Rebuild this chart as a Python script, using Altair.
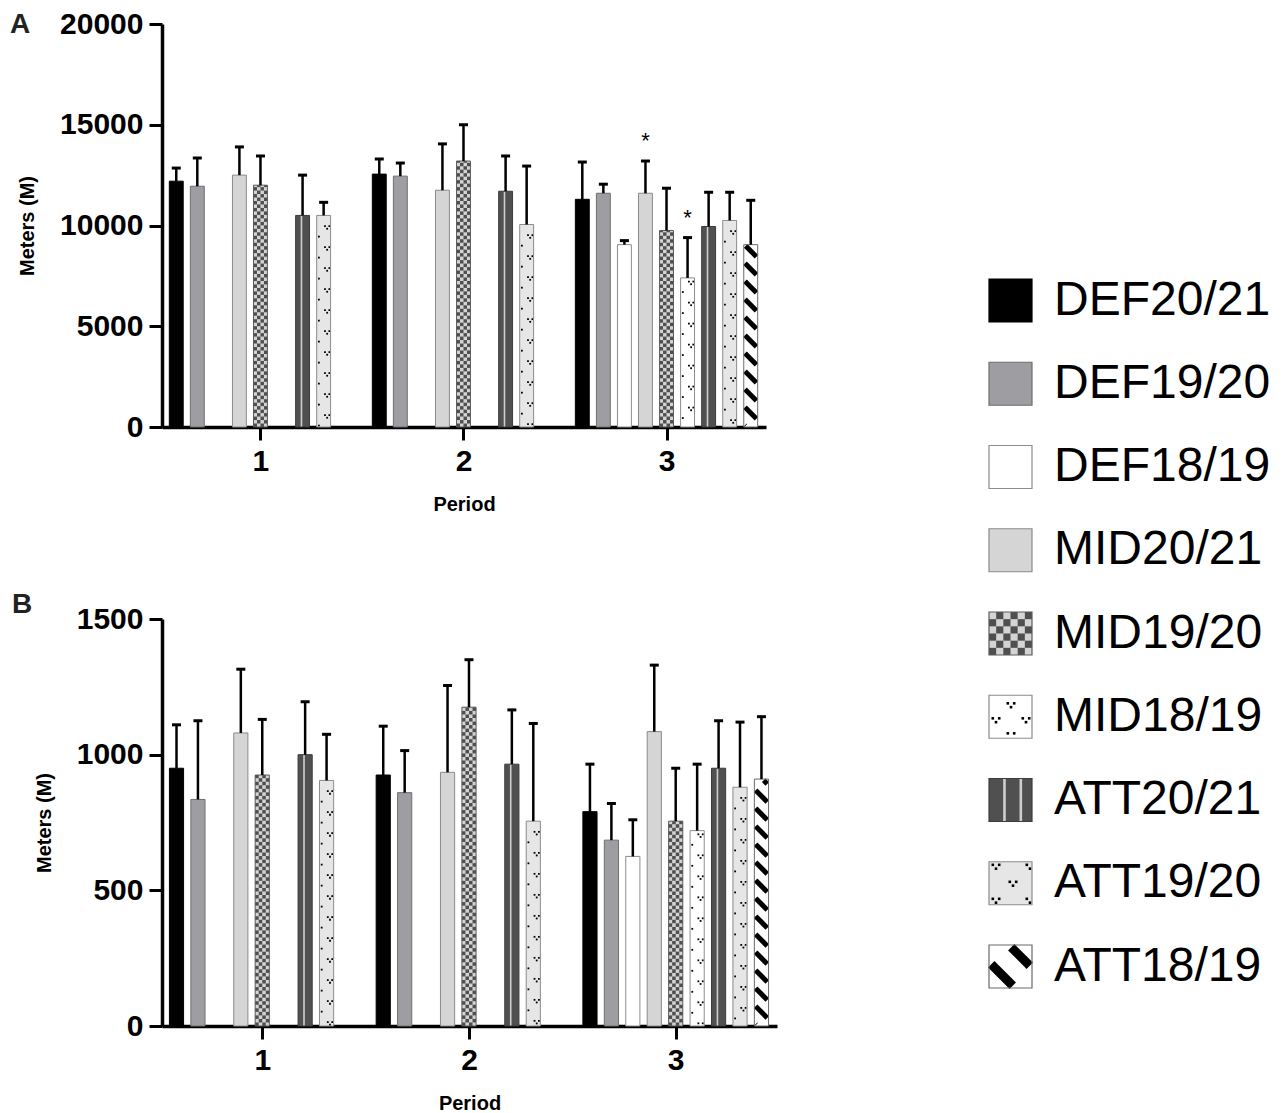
import altair as alt
import pandas as pd

FONT = "Liberation Sans"

PERIODS = [1, 2, 3]
SERIES = ["DEF20/21", "DEF19/20", "DEF18/19", "MID20/21", "MID19/20",
          "MID18/19", "ATT20/21", "ATT19/20", "ATT18/19"]

# Panel A: mean and SD (m) per period, in SERIES order (None = no data)
A_MEAN_P1 = [12200, 11950, None, 12500, 12000, None, 10500, 10500, None]
A_MEAN_P2 = [12550, 12450, None, 11750, 13200, None, 11700, 10050, None]
A_MEAN_P3 = [11300, 11600, 9050, 11600, 9750, 7400, 9950, 10250, 9050]
A_SD_P1 = [650, 1400, None, 1400, 1450, None, 2000, 650, None]
A_SD_P2 = [750, 650, None, 2300, 1800, None, 1750, 2900, None]
A_SD_P3 = [1850, 450, 200, 1600, 2100, 2000, 1700, 1400, 2200]
A_SIG = [(3, "MID20/21"), (3, "MID18/19")]
A_YTICKS = [0, 5000, 10000, 15000, 20000]

# Panel B
B_MEAN_P1 = [950, 835, None, 1080, 925, None, 1000, 905, None]
B_MEAN_P2 = [925, 860, None, 935, 1175, None, 965, 755, None]
B_MEAN_P3 = [790, 685, 625, 1085, 755, 720, 950, 880, 910]
B_SD_P1 = [160, 290, None, 235, 205, None, 195, 170, None]
B_SD_P2 = [180, 155, None, 320, 175, None, 200, 360, None]
B_SD_P3 = [175, 135, 135, 245, 195, 245, 175, 240, 230]
B_SIG = []
B_YTICKS = [0, 500, 1000, 1500]

FILLS = ["#000000", "#9e9ea2", "#ffffff", "#d5d5d5", "#d4d4d4",
         "#ffffff", "#505050", "#e6e6e6", "#ffffff"]
STROKES = ["#000000", "#6e6e6e", "#8c8c8c", "#8a8a8a", "#5a5a5a",
           "#8c8c8c", "#3c3c3c", "#8c8c8c", "#6a6a6a"]

STEP = 0.1037
BW = 0.0685
XDOM = [0.515, 3.49]


def build(means, sds, sig):
    rows = []
    for p, m_list, s_list in zip(PERIODS, means, sds):
        for i, (s, m, sd) in enumerate(zip(SERIES, m_list, s_list)):
            if m is None:
                continue
            rows.append(dict(period=p, series=s, slot=i, mean=m, sd=sd,
                             sig=int((p, s) in sig)))
    return pd.DataFrame(rows)


BAR_PAT = dict(nc=4, stripes="[0.42]", stripe_w=1.6,
               dots={"MID18/19": (21, 10.5, 5), "ATT19/20": (21, 10.5, 12)},
               dot_s=1.8, dot_d=2.2, diag_q=18, diag_sw=5, diag_ph=3)
LEG_PAT = dict(nc=6, stripes="[0.36, 0.74]", stripe_w=2.6,
               dots={"MID18/19": (30, 22, 10), "ATT19/20": (34, 7, 5)},
               dot_s=2.6, dot_d=3.2, diag_q=37, diag_sw=9, diag_ph=-11)


def tern(m, a, b, c):
    return f"(datum.{m} == 0 ? {a} : (datum.{m} == 1 ? {b} : {c}))"


def pattern_layers(base, X, X2, Y, Y2, ux, uy, P):
    layers = []
    K = uy / ux
    nc = P["nc"]
    chk = (base.transform_filter("datum.series == 'MID19/20'")
           .transform_calculate(cw=f"(datum.x1 - datum.x0) / {nc}")
           .transform_calculate(ch=f"datum.cw * {K}")
           .transform_calculate(rr="sequence(0, ceil((datum.hi - datum.lo) / datum.ch))")
           .transform_flatten(["rr"])
           .transform_calculate(cc=f"sequence(0, {nc})")
           .transform_flatten(["cc"])
           .transform_filter("(datum.rr + datum.cc) % 2 == 0")
           .transform_calculate(qx0="datum.x0 + datum.cc * datum.cw")
           .transform_calculate(qx1="datum.qx0 + datum.cw",
                                qy0="datum.lo + datum.rr * datum.ch")
           .transform_calculate(qy1="min(datum.hi, datum.qy0 + datum.ch)")
           .mark_rect(color="#4f4f4f")
           .encode(x=X("qx0"), x2=X2("qx1"), y=Y("qy0"), y2=Y2("qy1")))
    layers.append(chk)

    strp = (base.transform_filter("datum.series == 'ATT20/21'")
            .transform_calculate(fr=P["stripes"])
            .transform_flatten(["fr"])
            .transform_calculate(sx="datum.x0 + datum.fr * (datum.x1 - datum.x0)")
            .mark_rule(color="#cfcfcf", strokeWidth=P["stripe_w"])
            .encode(x=X("sx"), y=Y("lo"), y2=Y2("hi")))
    layers.append(strp)

    S = P["dot_s"]
    D = P["dot_d"]
    for s, (per, xr, yr) in P["dots"].items():
        dots = (base.transform_filter(f"datum.series == '{s}'")
                .transform_calculate(wpx=f"(datum.x1 - datum.x0) / {ux}",
                                     hpx=f"(datum.hi - datum.lo) / {uy}")
                .transform_calculate(jj=f"sequence(0, ceil(datum.hpx / {per / 2}) + 2)")
                .transform_flatten(["jj"])
                .transform_calculate(kk="[-1, 0, 1, 2]")
                .transform_flatten(["kk"])
                .transform_calculate(mm="[0, 1, 2]")
                .transform_flatten(["mm"])
                .transform_calculate(
                    px=f"{xr} + (datum.jj % 2) * {per / 2} + datum.kk * {per} + " + tern("mm", -D, D, 0),
                    py=f"{yr} + datum.jj * {per / 2} + " + tern("mm", -0.6 * D, -0.6 * D, 0.6 * D))
                .transform_filter(f"datum.px >= {S / 2} && datum.px <= datum.wpx - {S / 2} && "
                                  f"datum.py >= {S / 2} && datum.py <= datum.hpx - {S / 2}")
                .transform_calculate(dx0=f"datum.x0 + (datum.px - {S / 2}) * {ux}",
                                     dx1=f"datum.x0 + (datum.px + {S / 2}) * {ux}",
                                     dy0=f"datum.hi - (datum.py + {S / 2}) * {uy}",
                                     dy1=f"datum.hi - (datum.py - {S / 2}) * {uy}")
                .mark_rect(color="black")
                .encode(x=X("dx0"), x2=X2("dx1"), y=Y("dy0"), y2=Y2("dy1")))
        layers.append(dots)

    Q = P["diag_q"]
    SW = P["diag_sw"]
    PH = P["diag_ph"]
    M = SW * 0.25
    diag = (base.transform_filter("datum.series == 'ATT18/19'")
            .transform_calculate(wpx=f"(datum.x1 - datum.x0) / {ux}",
                                 hpx=f"(datum.hi - datum.lo) / {uy}")
            .transform_calculate(ci=f"sequence(0, ceil((datum.hpx + datum.wpx) / {Q}) + 2)")
            .transform_flatten(["ci"])
            .transform_calculate(cv=f"{PH} + datum.ci * {Q}")
            .transform_calculate(xs=f"max({M}, datum.cv - (datum.hpx - {M}))",
                                 xe=f"min(datum.wpx - {M}, datum.cv - {M})")
            .transform_filter("datum.xs < datum.xe")
            .transform_calculate(lx0=f"datum.x0 + datum.xs * {ux}",
                                 ly0=f"datum.lo + (datum.cv - datum.xs) * {uy}",
                                 lx1=f"datum.x0 + datum.xe * {ux}",
                                 ly1=f"datum.lo + (datum.cv - datum.xe) * {uy}")
            .mark_rule(color="black", strokeWidth=SW, strokeCap="butt")
            .encode(x=X("lx0"), y=Y("ly0"), x2=X2("lx1"), y2=Y2("ly1")))
    layers.append(diag)
    return layers


def panel(df, ymax, yticks, width, height, letter, lx, ly):
    ux = (XDOM[1] - XDOM[0]) / width
    uy = ymax / height
    xs = alt.Scale(domain=XDOM, nice=False, zero=False)
    ys = alt.Scale(domain=[0, ymax], nice=False)
    xax = alt.Axis(values=PERIODS, format="d", title="Period",
                   labelPadding=6, titlePadding=18)
    yax = alt.Axis(values=yticks, format="d", title="Meters (M)",
                   labelPadding=6, titlePadding=22)

    def X(f):
        return alt.X(f"{f}:Q", scale=xs, axis=xax)

    def X2(f):
        return alt.X2(f)

    def Y(f):
        return alt.Y(f"{f}:Q", scale=ys, axis=yax)

    def Y2(f):
        return alt.Y2(f)

    base = (alt.Chart(df)
            .transform_calculate(xc=f"datum.period + (datum.slot - 4) * {STEP}")
            .transform_calculate(x0=f"datum.xc - {BW / 2}", x1=f"datum.xc + {BW / 2}",
                                 lo="0", hi="datum.mean", e="datum.mean + datum.sd"))

    fill = base.mark_rect().encode(
        x=X("x0"), x2=X2("x1"), y=Y("lo"), y2=Y2("hi"),
        fill=alt.Fill("series:N", scale=alt.Scale(domain=SERIES, range=FILLS), legend=None))
    outline = base.mark_rect(fillOpacity=0, strokeWidth=1).encode(
        x=X("x0"), x2=X2("x1"), y=Y("lo"), y2=Y2("hi"),
        stroke=alt.Stroke("series:N", scale=alt.Scale(domain=SERIES, range=STROKES), legend=None))
    stem = base.mark_rule(color="black", strokeWidth=2.5).encode(
        x=X("xc"), y=Y("hi"), y2=Y2("e"))
    cap = (base.transform_calculate(cx0=f"datum.xc - {4.5 * ux}", cx1=f"datum.xc + {4.5 * ux}")
           .mark_rule(color="black", strokeWidth=3)
           .encode(x=X("cx0"), x2=X2("cx1"), y=Y("e")))
    layers = [fill] + pattern_layers(base, X, X2, Y, Y2, ux, uy, BAR_PAT) + [outline, stem, cap]
    if df["sig"].sum() > 0:
        star = (base.transform_filter("datum.sig == 1")
                .mark_text(text="*", fontSize=22, dy=-20, baseline="middle", font=FONT, color="black")
                .encode(x=X("xc"), y=Y("e")))
        layers.append(star)
    lab = (alt.Chart(pd.DataFrame({"t": [letter]}))
           .mark_text(fontSize=28, fontWeight="bold", align="left", baseline="alphabetic",
                      font=FONT, color="#222222")
           .encode(x=alt.value(lx), y=alt.value(ly), text="t:N"))
    layers.append(lab)
    return alt.layer(*layers).properties(width=width, height=height)


dfA = build([A_MEAN_P1, A_MEAN_P2, A_MEAN_P3], [A_SD_P1, A_SD_P2, A_SD_P3], A_SIG)
dfB = build([B_MEAN_P1, B_MEAN_P2, B_MEAN_P3], [B_SD_P1, B_SD_P2, B_SD_P3], B_SIG)

chartA = panel(dfA, 20000, A_YTICKS, 604, 403, "A", -152, 9)
chartB = panel(dfB, 1500, B_YTICKS, 615, 407, "B", -150, -6)

# Legend panel
LW, LH = 480, 1080
LX0, LT0, LSZ, LSP = 202, 255, 43, 83.25


def legend_chart():
    sx = alt.Scale(domain=[0, LW], nice=False, zero=False)
    sy = alt.Scale(domain=[0, LH], nice=False, zero=False)

    def X(f):
        return alt.X(f"{f}:Q", scale=sx, axis=None)

    def X2(f):
        return alt.X2(f)

    def Y(f):
        return alt.Y(f"{f}:Q", scale=sy, axis=None)

    def Y2(f):
        return alt.Y2(f)

    base = (alt.Chart(pd.DataFrame({"series": SERIES, "k": list(range(len(SERIES)))}))
            .transform_calculate(x0=f"{LX0}", x1=f"{LX0 + LSZ}",
                                 hi=f"{LH} - ({LT0} + datum.k * {LSP})")
            .transform_calculate(lo=f"datum.hi - {LSZ}")
            .transform_calculate(ym="(datum.lo + datum.hi) / 2", tx="datum.x1 + 22"))
    fill = base.mark_rect().encode(
        x=X("x0"), x2=X2("x1"), y=Y("lo"), y2=Y2("hi"),
        fill=alt.Fill("series:N", scale=alt.Scale(domain=SERIES, range=FILLS), legend=None))
    outline = base.mark_rect(fillOpacity=0, strokeWidth=1.2).encode(
        x=X("x0"), x2=X2("x1"), y=Y("lo"), y2=Y2("hi"),
        stroke=alt.Stroke("series:N", scale=alt.Scale(domain=SERIES, range=STROKES), legend=None))
    text = base.mark_text(fontSize=48, align="left", baseline="middle", font=FONT,
                          color="black").encode(x=X("tx"), y=Y("ym"), text="series:N")
    layers = [fill] + pattern_layers(base, X, X2, Y, Y2, 1.0, 1.0, LEG_PAT) + [outline, text]
    return alt.layer(*layers).properties(width=LW, height=LH)


chart = (alt.hconcat(alt.vconcat(chartA, chartB, spacing=77), legend_chart(), spacing=10)
         .properties(padding={"left": 2, "top": 1, "right": 0, "bottom": 0})
         .configure_view(stroke=None)
         .configure_axis(domainColor="black", domainWidth=3.5, tickColor="black",
                         tickWidth=3, tickSize=13, labelFont=FONT, labelFontSize=30,
                         labelFontWeight="bold", labelColor="black", titleFont=FONT,
                         titleFontSize=20, titleFontWeight="bold", titleColor="black",
                         grid=False)
         .configure_text(font=FONT))

chart.save("out.html", embed_options={"renderer": "svg", "actions": False})
